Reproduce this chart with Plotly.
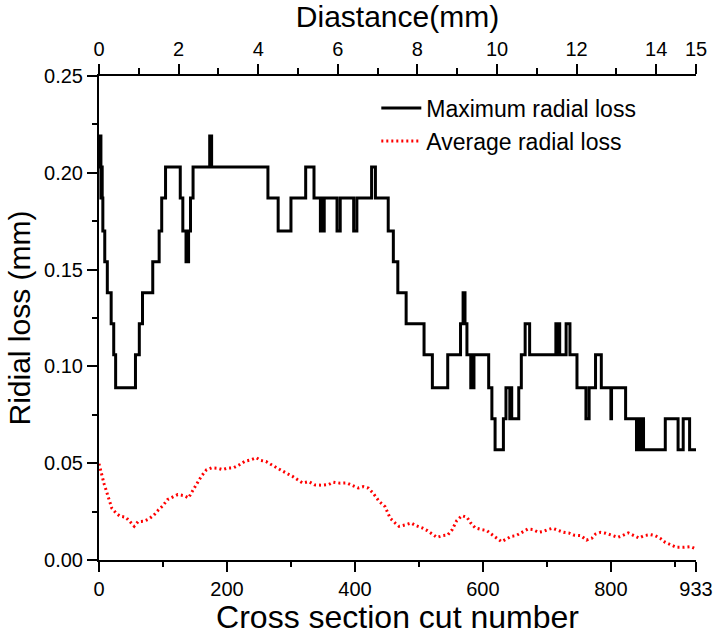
import plotly.graph_objects as go

# ---- data ----
# Maximum radial loss: step function (start of each step, value)
max_x = [0, 1, 2, 3, 4, 5, 6, 9, 13, 19, 23, 26, 57, 63, 68, 84, 94, 98, 104,
         127, 131, 136, 137, 138, 140, 143, 147, 173, 174, 175, 176,
         264, 280, 300, 323, 336, 346, 348, 349, 352, 372, 377, 398, 403, 426, 432,
         452, 460, 467, 480, 508, 521, 545, 565, 569, 570, 571, 572, 575, 581, 583, 584, 586,
         609, 614, 619, 632, 636, 642, 643, 645, 656, 660, 666, 673,
         714, 716, 717, 720, 730, 736, 747, 761, 766, 776, 785, 800, 801,
         823, 840, 844, 846, 849, 851, 885, 905, 913, 923, 933]
max_y = [0.219, 0.203, 0.219, 0.187, 0.203, 0.187, 0.170, 0.154, 0.138, 0.122, 0.106, 0.089,
         0.106, 0.122, 0.138, 0.154, 0.170, 0.187, 0.203,
         0.187, 0.170, 0.154, 0.170, 0.154, 0.170, 0.187, 0.203, 0.219, 0.203, 0.219, 0.203,
         0.187, 0.170, 0.187, 0.203, 0.187, 0.170, 0.187, 0.170, 0.187, 0.170, 0.187, 0.170,
         0.187, 0.203, 0.187,
         0.170, 0.154, 0.138, 0.122, 0.106, 0.089, 0.106, 0.122, 0.138, 0.122, 0.138, 0.122,
         0.106, 0.089, 0.106, 0.089, 0.106,
         0.089, 0.073, 0.057, 0.073, 0.089, 0.073, 0.089, 0.073, 0.089, 0.106, 0.122, 0.106,
         0.122, 0.106, 0.122, 0.106, 0.122, 0.106, 0.089, 0.073, 0.089, 0.106, 0.089, 0.073, 0.089,
         0.073, 0.057, 0.073, 0.057, 0.073, 0.057, 0.073, 0.057, 0.073, 0.057, 0.057]

# Average radial loss
avg_x = [0, 5, 8, 11, 14, 20, 27, 33, 42, 48, 55, 61, 70, 78, 86, 93, 100, 107, 115, 123,
         132, 140, 145, 151, 160, 168, 176, 185, 193, 200, 210, 219, 228, 236, 246, 253,
         261, 269, 275, 283, 292, 302, 309, 318, 328, 337, 349, 359, 366, 377, 387, 396,
         405, 413, 421, 428, 438, 447, 455, 463, 469, 478, 488, 495, 505, 513, 520, 528,
         538, 545, 552, 559, 567, 575, 581, 588, 598, 606, 613, 621, 629, 637, 644, 652,
         662, 670, 678, 687, 694, 701, 709, 718, 726, 734, 742, 753, 762, 770, 776, 784,
         792, 803, 811, 818, 827, 836, 844, 852, 862, 869, 877, 885, 893, 902, 914, 924, 933]
avg_y = [0.0497, 0.0428, 0.0393, 0.0362, 0.0329, 0.0267, 0.0241, 0.0226, 0.0221, 0.0198,
         0.0174, 0.0198, 0.0200, 0.0212, 0.0233, 0.0259, 0.0281, 0.0312, 0.0324, 0.0338,
         0.0333, 0.0321, 0.0350, 0.0384, 0.0433, 0.0466, 0.0476, 0.0474, 0.0467, 0.0474,
         0.0476, 0.0491, 0.0510, 0.0516, 0.0528, 0.0514, 0.0509, 0.0493, 0.0481, 0.0466,
         0.0450, 0.0433, 0.0416, 0.0398, 0.0405, 0.0388, 0.0386, 0.0390, 0.0402, 0.0397,
         0.0398, 0.0384, 0.0372, 0.0379, 0.0371, 0.0347, 0.0302, 0.0276, 0.0216, 0.0191,
         0.0174, 0.0181, 0.0191, 0.0178, 0.0166, 0.0152, 0.0134, 0.0117, 0.0126, 0.0129,
         0.0157, 0.0203, 0.0229, 0.0221, 0.0191, 0.0166, 0.0157, 0.0152, 0.0134, 0.0112,
         0.0095, 0.0109, 0.0122, 0.0126, 0.0147, 0.0160, 0.0157, 0.0143, 0.0147, 0.0157,
         0.0164, 0.0152, 0.0143, 0.0140, 0.0129, 0.0126, 0.0103, 0.0112, 0.0134, 0.0143,
         0.0138, 0.0126, 0.0117, 0.0126, 0.0140, 0.0126, 0.0114, 0.0126, 0.0131, 0.0126,
         0.0112, 0.0091, 0.0079, 0.0066, 0.0066, 0.0069, 0.0057]

x_ticks = [0, 200, 400, 600, 800, 933]
x_minor = [100, 300, 500, 700, 900]
top_ticks = [0, 2, 4, 6, 8, 10, 12, 14, 15]
top_minor = [1, 3, 5, 7, 9, 11, 13]
y_ticks = [0.00, 0.05, 0.10, 0.15, 0.20, 0.25]
y_minor = [0.025, 0.075, 0.125, 0.175, 0.225]

FONT = "Liberation Sans, Arial, sans-serif"

fig = go.Figure()
fig.add_trace(go.Scatter(x=max_x, y=max_y, mode="lines", line_shape="hv",
                         line=dict(color="black", width=3),
                         name="Maximum radial loss", legendgroup="a"))
fig.add_trace(go.Scatter(x=avg_x, y=avg_y, mode="lines",
                         line=dict(color="#ff0000", width=3, dash="2px,3px"),
                         name="Average radial loss", legendgroup="b"))
# empty trace so the top (distance) axis is drawn
fig.add_trace(go.Scatter(x=[top_ticks[0], top_ticks[-1]], y=[None, None], xaxis="x2",
                         mode="lines", showlegend=False, hoverinfo="skip"))

tick_common = dict(showline=True, linecolor="black", linewidth=2,
                   ticks="outside", tickwidth=2, tickcolor="black",
                   showgrid=False, zeroline=False, tickfont=dict(size=20))

fig.update_layout(
    width=725, height=635,
    margin=dict(l=99, r=21, t=76, b=75),
    paper_bgcolor="white", plot_bgcolor="white",
    font=dict(family=FONT, color="black", size=20),
    showlegend=True,
    legend=dict(x=0.4645, y=0.978, xanchor="left", yanchor="top",
                font=dict(size=23, family=FONT), bgcolor="rgba(0,0,0,0)",
                tracegroupgap=0, itemwidth=40),
    xaxis=dict(range=[0, 933], tickmode="array", tickvals=x_ticks,
               ticktext=[str(v) for v in x_ticks], ticklen=10,
               minor=dict(tickvals=x_minor, ticks="outside", ticklen=5, tickwidth=2,
                          tickcolor="black"),
               title=dict(text="Cross section cut number", font=dict(size=32), standoff=0),
               **tick_common),
    xaxis2=dict(range=[0, 15], overlaying="x", side="top", anchor="y",
                tickmode="array", tickvals=top_ticks,
                ticktext=[str(v) for v in top_ticks], ticklen=10,
                minor=dict(tickvals=top_minor, ticks="outside", ticklen=6, tickwidth=2,
                           tickcolor="black"),
                title=dict(text="Diastance(mm)", font=dict(size=30), standoff=2),
                **tick_common),
    yaxis=dict(range=[0, 0.25], tickmode="array", tickvals=y_ticks,
               ticktext=["%.2f" % v for v in y_ticks], ticklen=10,
               minor=dict(tickvals=y_minor, ticks="outside", ticklen=5, tickwidth=2,
                          tickcolor="black"),
               title=dict(text="Ridial loss (mm)", font=dict(size=30), standoff=5),
               **tick_common),
)

fig.write_html("out.html")
